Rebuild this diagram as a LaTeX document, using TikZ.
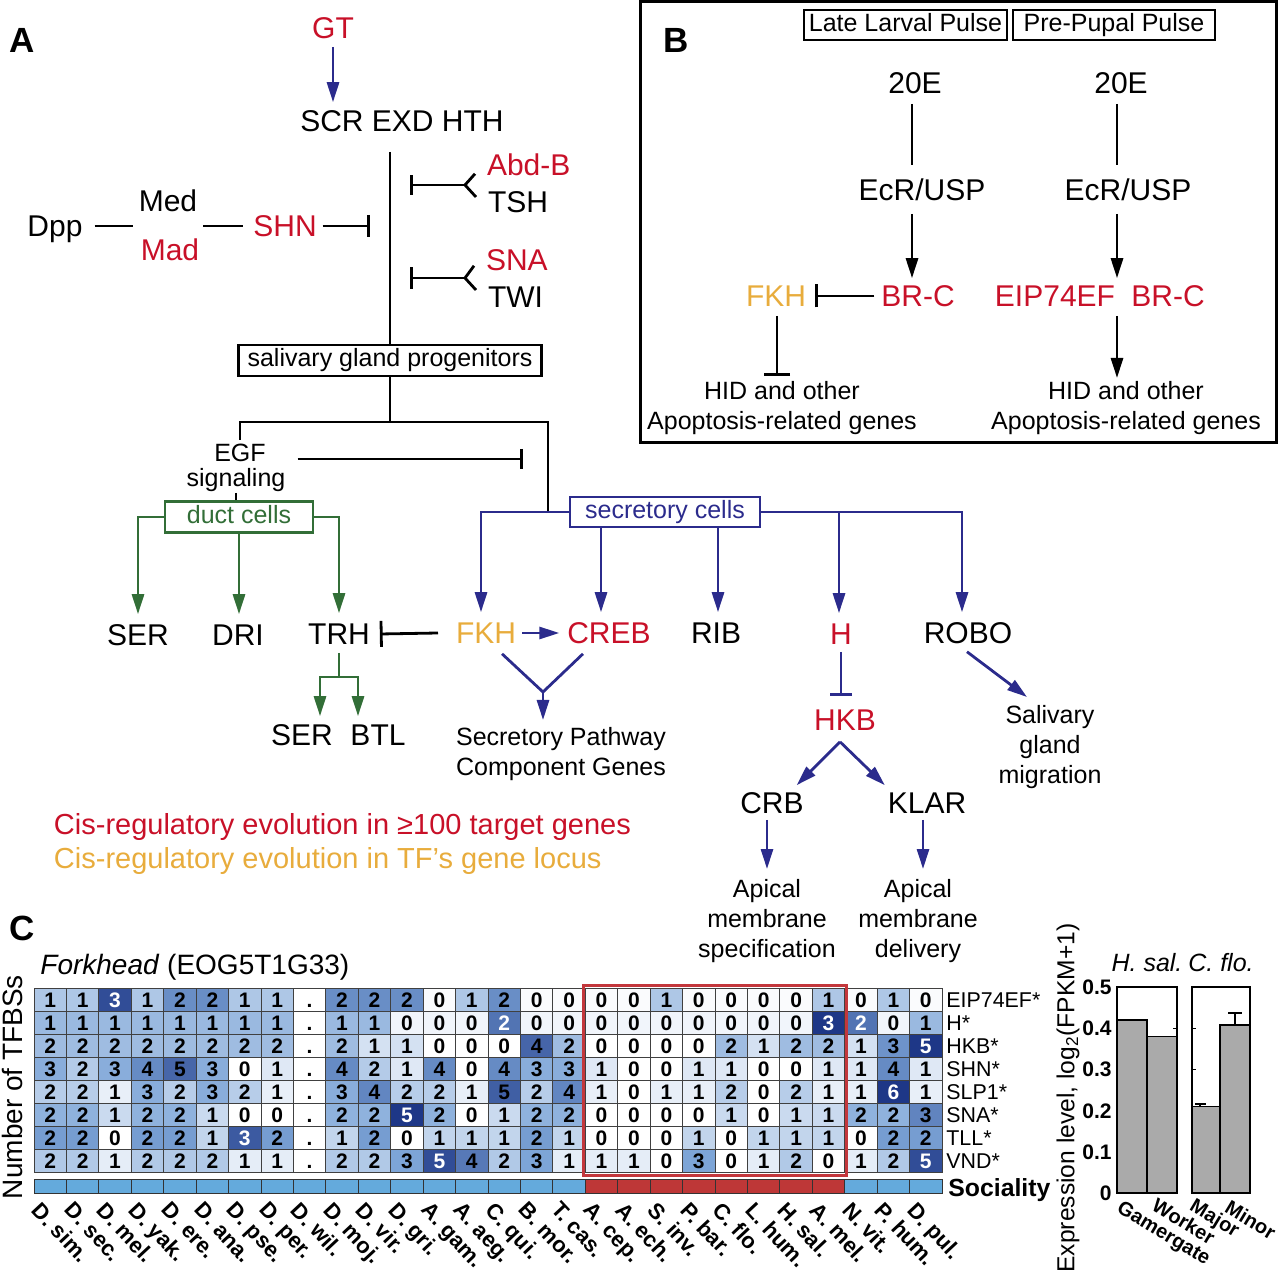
\documentclass[tikz,border=0pt]{standalone}
\usepackage{fontspec}
\setmainfont{Liberation Sans}
\setsansfont{Liberation Sans}
\usetikzlibrary{arrows.meta,calc}
\definecolor{cred}{RGB}{200,16,40}
\definecolor{corange}{RGB}{232,172,60}
\definecolor{cblue}{RGB}{43,43,140}
\definecolor{cgreen}{RGB}{50,110,55}
\definecolor{hmmid}{RGB}{125,165,215}
\definecolor{hmdark}{RGB}{30,55,135}
\definecolor{socblue}{RGB}{100,170,220}
\definecolor{socred}{RGB}{190,55,55}
\definecolor{boxred}{RGB}{195,55,60}
\definecolor{bargray}{RGB}{170,170,170}
\newcommand\fntA{\fontsize{15}{18}\selectfont}
\newcommand\fntB{\fontsize{12.5}{15}\selectfont}
\newcommand\fntL{\fontsize{17.5}{20}\selectfont\bfseries}
\newcommand\hmrow[5]{%
 \foreach \v [count=\c from 0] in {#5}{%
  \pgfmathsetmacro\xa{34+\c*32.43}%
  \pgfmathsetmacro\xb{34+(\c+1)*32.43}%
  \pgfmathsetmacro\ya{988+#1*23}%
  \pgfmathsetmacro\yb{988+(#1+1)*23}%
  \ifnum\v<0
    \def\tc{black}\colorlet{cc}{white}\def\lab{.}%
  \else
    \pgfmathsetmacro\z{(\v-#2)/#3}%
    \pgfmathsetmacro\tt{max(0,min(1,(\z+1.1)/3.9))}%
    \pgfmathtruncatemacro\tA{min(100,\tt*200)}%
    \pgfmathtruncatemacro\tB{max(0,\tt*200-100)}%
    \colorlet{cc}{hmmid!\tA!white}%
    \colorlet{cc}{hmdark!\tB!cc}%
    \pgfmathparse{\z>#4?1:0}%
    \ifdim\pgfmathresult pt>0.5pt \def\tc{white}\else\def\tc{black}\fi
    \edef\lab{\v}%
  \fi
  \draw[hmgrid,fill=cc] (\xa,\ya) rectangle (\xb,\yb);
  \node[hmnum,text=\tc] (h-#1-\c) at ({(\xa+\xb)/2},{(\ya+\yb)/2}) {\lab};
 }}
\begin{document}
\begin{tikzpicture}[x=0.5pt,y=-0.5pt,
  ln/.style={line width=1.4pt,black},
  arr/.style={ln,-{Triangle[length=10pt,width=6pt]}},
  bln/.style={ln,cblue},
  barr/.style={arr,cblue},
  gln/.style={ln,cgreen},
  garr/.style={arr,cgreen},
  t/.style={inner sep=0pt,outer sep=0pt,font=\fntA,text height=10.8pt,text depth=0pt},
  ts/.style={inner sep=0pt,outer sep=0pt,font=\fntB,text height=9pt,text depth=0pt},
  ml/.style={inner sep=0pt,outer sep=0pt,font=\fntB,align=center},
  pl/.style={inner sep=0pt,outer sep=0pt,font=\fntL,text height=12.5pt,text depth=0pt},
  boxn/.style={draw,line width=1.3pt,inner sep=0pt,font=\fntB,text height=9pt,text depth=2.5pt},
  hmgrid/.style={draw=black!75,line width=0.5pt},
  hmnum/.style={inner sep=0pt,font=\fontsize{10.5}{12}\selectfont\bfseries,text height=7.5pt,text depth=0pt},
  rl/.style={inner sep=0pt,anchor=west,font=\fontsize{10.7}{12}\selectfont,text height=7.7pt,text depth=0pt},
  sp/.style={inner sep=0pt,font=\fontsize{11}{13}\selectfont\bfseries,rotate=-47,anchor=north west}
]
\useasboundingbox (0,0) rectangle (1280,1272);
% ================= Panel A =================
\node[pl] (lA) at (22,40) {A};
\node[t,cred] (gt) at (333,28) {GT};
\node[t] (scr) at (402,121) {SCR EXD HTH};
\draw[barr] ($(gt.south)+(0,8)$) -- ($(gt.south |- scr.north)+(0,-8)$);
\node[boxn,minimum width=151.5pt,minimum height=15.5pt] (sgp) at (390,360.5) {salivary gland progenitors};
\draw[ln] ($(scr.south -| sgp.north)+(0,20)$) -- (sgp.north);
% Abd-B / TSH
\node[t,cred,anchor=west] (abdb) at (487,165) {Abd-B};
\node[t,anchor=west] (tsh) at (488,202) {TSH};
\coordinate (fk1) at (465,185);
\coordinate (bar1) at (410,185);
\draw[ln] ($(abdb.south west)+(-12,-2)$) -- (fk1) -- ($(tsh.west)+(-12,-5)$);
\draw[ln,-{Bar[width=10pt]}] (fk1) -- (bar1);
% SNA / TWI
\node[t,cred,anchor=west] (sna) at (486,260) {SNA};
\node[t,anchor=west] (twi) at (488,297) {TWI};
\coordinate (fk2) at (465,278);
\coordinate (bar2) at (410,278);
\draw[ln] ($(sna.south west)+(-12,-5)$) -- (fk2) -- ($(twi.west)+(-12,-7)$);
\draw[ln,-{Bar[width=11pt]}] (fk2) -- (bar2);
% Dpp Med Mad SHN
\node[t] (dpp) at (55,226) {Dpp};
\node[t] (med) at (168,201) {Med};
\node[t,cred] (mad) at (170,250) {Mad};
\node[t,cred] (shn) at (285,226) {SHN};
\coordinate (bar0) at (370,226);
\draw[ln] ($(dpp.east)+(12,0)$) -- ($(dpp.east -| med.west)+(-6,0)$);
\draw[ln] ($(dpp.east -| med.east)+(6,0)$) -- ($(shn.west)+(-10,0)$);
\draw[ln,-{Bar[width=11pt]}] ($(shn.east)+(6,0)$) -- (bar0);
% below progenitors
\coordinate (jL) at (240,422);
\coordinate (jR) at (548,422);
\node[ts] (egf) at (240,453) {EGF};
\node[ts] (sig) at (236,478) {signaling};
\node[boxn,cgreen,minimum width=74pt,minimum height=15.5pt] (duct) at (239,517) {duct cells};
\node[boxn,cblue,minimum width=95pt,minimum height=15pt] (sec) at (665,512) {secretory cells};
\draw[ln] (sgp.south) -- (sgp.south |- jL);
\draw[ln] ($(egf.north)+(0,-4)$) -- (jL) -- (jR) -- (jR |- sec.west);
\coordinate (bar3) at (523,459);
\draw[ln,-{Bar[width=10pt]}] ($(egf.east)+(32,6)$) -- (bar3);
\draw[ln] ($(sig.south)+(0,6)$) -- (sig.south |- duct.north);
% duct targets
\node[t] (ser1) at (138,635) {SER};
\node[t] (dri) at (238,635) {DRI};
\node[t] (trh) at (339,634) {TRH};
\draw[garr] (duct.west) -| ($(ser1.north)+(0,-10)$);
\draw[garr] (duct.south) -- ($(duct.south |- dri.north)+(0,-10)$);
\draw[garr] (duct.east) -| ($(trh.north)+(0,-10)$);
\coordinate (tj) at (339,677);
\node[t] (ser2) at (302,735) {SER};
\node[t] (btl) at (378,735) {BTL};
\draw[gln] ($(trh.south)+(0,8)$) -- (tj);
\draw[garr] (tj) -| ($(ser2.north)+(18,-8)$);
\draw[garr] (tj) -| ($(btl.north)+(-20,-8)$);
% secretory targets
\node[t,corange] (fkh) at (486,633) {FKH};
\node[t,cred] (creb) at (609,633) {CREB};
\node[t] (rib) at (716,633) {RIB};
\node[t,cred] (hh) at (841,634) {H};
\node[t] (robo) at (968,633) {ROBO};
\draw[ln,-{Bar[width=13pt]}] ($(fkh.west)+(-18,0)$) -- ($(trh.east)+(10,0)$);
\draw[barr] ($(fkh.east)+(6,0)$) -- ($(creb.west)+(-8,0)$);
\draw[barr] (sec.west) -| ($(fkh.north)+(-5,-10)$);
\draw[barr] ($(creb.north |- sec.south)+(-8,0)$) -- ($(creb.north)+(-8,-10)$);
\draw[barr] ($(rib.north |- sec.south)+(2,0)$) -- ($(rib.north)+(2,-10)$);
\draw[barr] (sec.east) -| ($(robo.north)+(-6,-10)$);
\draw[barr] ($(hh.north |- sec.east)+(-2,0)$) -- ($(hh.north)+(-2,-10)$);
% secretory pathway
\node[ml,anchor=north] (spc) at (561,727) {Secretory Pathway\\Component Genes};
\coordinate (sj) at (543,692);
\draw[bln] ($(fkh.south)+(16,10)$) -- (sj);
\draw[bln] ($(creb.south)+(-26,10)$) -- (sj);
\draw[barr] (sj) -- ($(sj |- spc.north)+(0,-7)$);
% H / HKB
\node[t,cred] (hkb) at (845,720) {HKB};
\draw[bln,-{Bar[width=11pt]}] ($(hh.south)+(0,7)$) -- ($(hkb.north)+(-4,-13)$);
\node[t] (crb) at (772,803) {CRB};
\node[t] (klar) at (927,803) {KLAR};
\draw[barr] ($(hkb.south)+(-5,11)$) -- ($(crb.north east)+(-7,-7)$);
\draw[barr] ($(hkb.south)+(-5,11)$) -- ($(klar.north west)+(-3,-7)$);
\node[ml,anchor=north] (ap1) at (767,879) {Apical\\membrane\\specification};
\node[ml,anchor=north] (ap2) at (918,879) {Apical\\membrane\\delivery};
\draw[barr] ($(ap1.north |- crb.south)+(0,6)$) -- ($(ap1.north)+(0,-10)$);
\draw[barr] ($(klar.south)+(-4,6)$) -- ($(klar.south |- ap2.north)+(-4,-10)$);
\node[ml,anchor=north] (mig) at (1050,705) {Salivary\\gland\\migration};
\draw[barr] ($(robo.south)+(-1,8)$) -- ($(mig.north)+(-23,-8)$);
% legend
\node[t,font=\fontsize{14.5}{17}\selectfont,cred,anchor=west] (leg1) at (54,824) {Cis-regulatory evolution in ≥100 target genes};
\node[t,font=\fontsize{14.5}{17}\selectfont,corange,anchor=west] (leg2) at (54,858) {Cis-regulatory evolution in TF’s gene locus};
% ================= Panel B =================
\draw[line width=1.5pt] (640,2) rectangle (1276,443);
\node[pl] (lB) at (676,40) {B};
\node[boxn,line width=1.2pt,minimum width=101.5pt,minimum height=15pt] (llp) at (905.5,25) {Late Larval Pulse};
\node[boxn,line width=1.2pt,minimum width=101pt,minimum height=15pt] (ppp) at (1114,25) {Pre-Pupal Pulse};
\node[t] (e1) at (915,83) {20E};
\node[t] (e2) at (1121,83) {20E};
\node[t] (ecr1) at (922,190) {EcR/USP};
\node[t] (ecr2) at (1128,190) {EcR/USP};
\node[t,cred] (brc1) at (918,296) {BR-C};
\node[t,corange] (fkhb) at (776,296) {FKH};
\node[t,cred] (eip) at (1055,296) {EIP74EF};
\node[t,cred] (brc2) at (1168,296) {BR-C};
\node[ml,anchor=north] (hid1) at (782,381) {HID and other\\Apoptosis-related genes};
\node[ml,anchor=north] (hid2) at (1126,381) {HID and other\\Apoptosis-related genes};
\draw[ln] ($(e1.south)+(-3,10)$) -- ($(e1.south |- ecr1.north)+(-3,-14)$);
\draw[ln] ($(e2.south)+(-4,10)$) -- ($(e2.south |- ecr2.north)+(-4,-14)$);
\draw[arr] ($(ecr1.south)+(-10,13)$) -- ($(brc1.north)+(-6,-7)$);
\draw[arr] ($(ecr2.south)+(-11,13)$) -- ($(ecr2.south |- brc2.north)+(-11,-7)$);
\draw[ln,-{Bar[width=11.5pt]}] ($(brc1.west)+(-7,0)$) -- ($(fkhb.east)+(9,0)$);
\draw[ln,-{Bar[width=13pt]}] ($(fkhb.south)+(1,9)$) -- ($(fkhb.south |- hid1.north)+(1,-5)$);
\draw[arr] ($(ecr2.south |- brc2.south)+(-11,9)$) -- ($(ecr2.south |- hid2.north)+(-11,-3)$);
% ================= Panel C =================
\node[pl] (lC) at (22,928) {C};
\node[inner sep=0pt,font=\fontsize{14}{16}\selectfont,rotate=90] (ytf) at (12,1087) {Number of TFBSs};
\node[inner sep=0pt,anchor=west,font=\fontsize{14}{16}\selectfont] (fork) at (40,967) {\textit{Forkhead} (EOG5T1G33)};
\hmrow{0}{0.889}{0.875}{2.15}{1,1,3,1,2,2,1,1,-1,2,2,2,0,1,2,0,0,0,0,1,0,0,0,0,1,0,1,0}
\hmrow{1}{0.667}{0.77}{1.7}{1,1,1,1,1,1,1,1,-1,1,1,0,0,0,2,0,0,0,0,0,0,0,0,0,3,2,0,1}
\hmrow{2}{1.556}{1.227}{2.15}{2,2,2,2,2,2,2,2,-1,2,1,1,0,0,0,4,2,0,0,0,0,2,1,2,2,1,3,5}
\hmrow{3}{1.926}{1.56}{2.15}{3,2,3,4,5,3,0,1,-1,4,2,1,4,0,4,3,3,1,0,0,1,1,0,0,1,1,4,1}
\hmrow{4}{2.037}{1.40}{2.15}{2,2,1,3,2,3,2,1,-1,3,4,2,2,1,5,2,4,1,0,1,1,2,0,2,1,1,6,1}
\hmrow{5}{1.333}{1.155}{2.15}{2,2,1,2,2,1,0,0,-1,2,2,5,2,0,1,2,2,0,0,0,0,1,0,1,1,2,2,3}
\hmrow{6}{1.148}{0.848}{2.15}{2,2,0,2,2,1,3,2,-1,1,2,0,1,1,1,2,1,0,0,0,1,0,1,1,1,0,2,2}
\hmrow{7}{1.889}{1.286}{2.15}{2,2,1,2,2,2,1,1,-1,2,2,3,5,4,2,3,1,1,1,0,3,0,1,2,0,1,2,5}
\foreach \lab [count=\i from 0] in {EIP74EF*,H*,HKB*,SHN*,SLP1*,SNA*,TLL*,VND*}
  \node[rl] (rl-\i) at (946,{999.5+\i*23}) {\lab};
\draw[boxred,line width=1.5pt] (583,985) rectangle (846,1175);
% sociality bar
\foreach \i in {0,...,27}{
  \pgfmathsetmacro\xa{34+\i*32.43}
  \pgfmathsetmacro\xb{34+(\i+1)*32.43}
  \ifnum\i>16 \ifnum\i<25 \def\sc{socred}\else\def\sc{socblue}\fi\else\def\sc{socblue}\fi
  \draw[draw=black!80,line width=0.5pt,fill=\sc] (\xa,1179) rectangle (\xb,1193);
}
\node[inner sep=0pt,anchor=west,font=\fontsize{12.4}{14}\selectfont\bfseries,text height=9pt,text depth=0pt] (soc) at (948,1187) {Sociality};
\foreach \s [count=\i from 0] in {D. sim.,D. sec.,D. mel.,D. yak.,D. ere.,D. ana.,D. pse.,D. per.,D. wil.,D. moj.,D. vir.,D. gri.,A. gam.,A. aeg.,C. qui.,B. mor.,T. cas.,A. cep.,A. ech.,S. inv.,P. bar.,C. flo.,L. hum.,H. sal.,A. mel.,N. vit.,P. hum.,D. pul.}
  \node[sp] (sp-\i) at ({34+(\i+0.5)*32.43-8},1200) {\s};
% bar chart
\foreach \v in {0.1,0.2,0.3,0.4}{
  \draw[line width=0.5pt] (1177,{1193-\v*412}) -- (1173,{1193-\v*412});
  \draw[line width=0.5pt] (1192,{1193-\v*412}) -- (1196,{1193-\v*412});
}
\draw[line width=0.6pt] (1117,987) rectangle (1177,1193);
\draw[line width=0.6pt] (1192,987) rectangle (1250,1193);
\draw[line width=0.6pt,fill=bargray] (1117,1193) rectangle (1147,{1193-0.42*412});
\draw[line width=0.6pt,fill=bargray] (1147,1193) rectangle (1177,{1193-0.379*412});
\draw[line width=0.6pt,fill=bargray] (1192,1193) rectangle (1220,{1193-0.209*412});
\draw[line width=0.6pt,fill=bargray] (1220,1193) rectangle (1250,{1193-0.408*412});
\draw[line width=0.8pt] (1200,1107) -- (1200,1104) (1195,1104) -- (1206,1104);
\draw[line width=0.8pt] (1235,1025) -- (1235,1013) (1228,1013) -- (1242,1013);
\foreach \v/\l in {0/0,0.1/0.1,0.2/0.2,0.3/0.3,0.4/0.4,0.5/0.5}
  \node[inner sep=0pt,anchor=east,font=\fontsize{10.5}{12}\selectfont\bfseries,text height=7.5pt,text depth=0pt] (tk-\l) at (1112,{1193-\v*412}) {\l};
\node[inner sep=0pt,rotate=90,font=\fontsize{12.3}{14}\selectfont] (ylab) at (1068,1098) {Expression level, log\textsubscript{2}(FPKM+1)};
\node[inner sep=0pt,font=\fontsize{12.5}{14}\selectfont\itshape] (hsal) at (1147,963) {H. sal.};
\node[inner sep=0pt,font=\fontsize{12.5}{14}\selectfont\itshape] (cflo) at (1221,963) {C. flo.};
\node[inner sep=0pt,rotate=-31,anchor=north west,font=\fontsize{10}{12}\selectfont\bfseries] (xg) at (1123,1199) {Gamergate};
\node[inner sep=0pt,rotate=-31,anchor=north west,font=\fontsize{10}{12}\selectfont\bfseries] (xw) at (1158,1197) {Worker};
\node[inner sep=0pt,rotate=-31,anchor=north west,font=\fontsize{10}{12}\selectfont\bfseries] (xma) at (1196,1197) {Major};
\node[inner sep=0pt,rotate=-31,anchor=north west,font=\fontsize{10}{12}\selectfont\bfseries] (xmi) at (1231,1199) {Minor};
\end{tikzpicture}
\end{document}
